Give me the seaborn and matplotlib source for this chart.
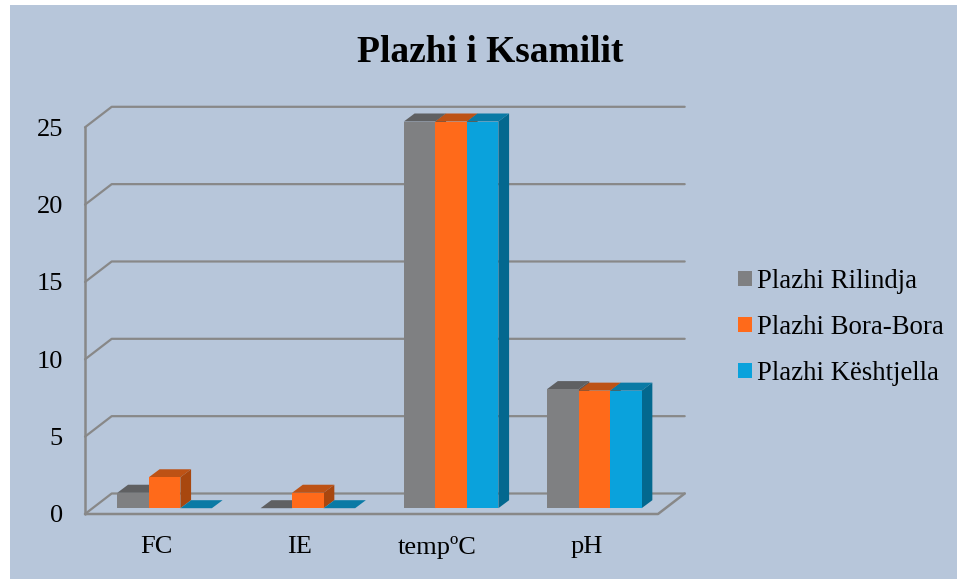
import matplotlib

matplotlib.use("Agg")
import matplotlib.pyplot as plt
import pandas as pd
import seaborn as sns
from matplotlib.patches import Polygon, Rectangle
from matplotlib.transforms import Affine2D, IdentityTransform


CATEGORIES = ["FC", "IE", "tempºC", "pH"]
RILINDJA = [1, 0, 25, 7.7]
BORA_BORA = [2, 1, 25, 7.6]
KESHTJELLA = [0, 0, 25, 7.6]
SERIES = ["Plazhi Rilindja", "Plazhi Bora-Bora", "Plazhi Kështjella"]
COLORS = ["#7F8082", "#FF6A1A", "#0AA2DC"]
TOPS = ["#5F6062", "#BD5215", "#0A7AA5"]
SIDES = ["#58595B", "#A8470F", "#03688F"]
YTICKS = [0, 5, 10, 15, 20, 25]

W, H = 957, 579
BG = "#B7C6DA"
LINE = "#888888"
BAR_SHIFT = (8, 5.8)
BAR_DEPTH = (10.7, 8)
WALL_DEPTH = (26.7, 20.5)


def wall_line(ax, v):
    x0, y0 = ax.transData.transform((-0.5, v))
    dx, dy = WALL_DEPTH
    x1 = ax.transData.transform((3.5, v))[0]
    ax.plot(
        [x0, x0 + dx, x1 + dx], [y0, y0 + dy, y0 + dy],
        transform=IdentityTransform(), color=LINE, lw=1.6, clip_on=False,
        zorder=1,
    )


def add_face(ax, pts, color, zorder):
    ax.add_patch(Polygon(
        pts, closed=True, transform=IdentityTransform(), facecolor=color,
        edgecolor="none", clip_on=False, zorder=zorder,
    ))


def main():
    sns.set_theme(style="white")
    plt.rcParams["font.family"] = ["Liberation Serif", "DejaVu Serif"]

    df = pd.DataFrame({
        "cat": CATEGORIES * 3,
        "beach": [s for s in SERIES for _ in CATEGORIES],
        "value": RILINDJA + BORA_BORA + KESHTJELLA,
    })

    fig = plt.figure(figsize=(W / 100, H / 100), dpi=100, facecolor="white")
    fig.add_artist(Rectangle(
        (10 / W, 0), (W - 10) / W, (H - 5) / H, transform=fig.transFigure,
        facecolor=BG, edgecolor="none", zorder=-5,
    ))
    ax = fig.add_axes([85 / W, (H - 514) / H, 573 / W, 386.7 / H])
    ax.patch.set_alpha(0)

    sns.barplot(
        data=df, x="cat", y="value", hue="beach", hue_order=SERIES,
        order=CATEGORIES, palette=COLORS, saturation=1, width=0.66, gap=0,
        linewidth=0, ax=ax,
    )
    ax.set_xlim(-0.5, 3.5)
    ax.set_ylim(0, 25)
    ax.set_xlabel("")
    ax.set_ylabel("")
    ax.set_yticks(YTICKS)
    ax.tick_params(axis="y", length=0, pad=16, labelsize=19, colors="black")
    ax.tick_params(axis="x", length=0, pad=16, labelsize=19, colors="black")
    sns.despine(ax=ax, left=True, bottom=True)

    # the degree label sits a bit left of its slot in the original
    temp_label = ax.get_xticklabels()[2]
    temp_label.set_transform(
        temp_label.get_transform() + Affine2D().translate(-6, 0)
    )

    # walls and floor
    for v in YTICKS:
        wall_line(ax, v)
    (x0, y0), (x1, y1) = ax.transData.transform([(-0.5, 0), (3.5, 25)])
    ax.plot([x0, x0], [y0, y1], transform=IdentityTransform(), color=LINE,
            lw=1.8, clip_on=False, zorder=1)
    ax.plot([x0, x1, x1 + WALL_DEPTH[0]], [y0, y0, y0 + WALL_DEPTH[1]],
            transform=IdentityTransform(), color=LINE, lw=1.8, clip_on=False,
            zorder=1)

    # fake 3d: shift the seaborn bars back and add top and side faces
    handles, labels = ax.get_legend_handles_labels()
    shift = Affine2D().translate(*BAR_SHIFT)
    dx, dy = BAR_DEPTH
    for i, cont in enumerate(ax.containers):
        z = 3 + i
        for bar in cont:
            bar.set_transform(ax.transData + shift)
            bar.set_clip_on(False)
            bar.set_zorder(z + 0.5)
            left, bottom = ax.transData.transform((bar.get_x(), 0))
            right, top = ax.transData.transform(
                (bar.get_x() + bar.get_width(), bar.get_height())
            )
            left += BAR_SHIFT[0]
            right += BAR_SHIFT[0]
            bottom += BAR_SHIFT[1]
            top += BAR_SHIFT[1]
            add_face(ax, [(left, top), (right, top), (right + dx, top + dy),
                          (left + dx, top + dy)], TOPS[i], z)
            if top > bottom:
                add_face(ax, [(right, bottom), (right + dx, bottom + dy),
                              (right + dx, top + dy), (right, top)],
                         SIDES[i], z)

    ax.legend(
        handles, labels, loc="upper left",
        bbox_to_anchor=(738 / W, (H - 269) / H),
        bbox_transform=fig.transFigure, frameon=False, fontsize=19.3,
        handlelength=0.52, handleheight=0.52, handletextpad=0.18,
        labelspacing=0.78, borderpad=0, borderaxespad=0, labelcolor="black",
    )
    fig.text(490 / W, (H - 52) / H, "Plazhi i Ksamilit", ha="center",
             va="center", fontsize=27, fontweight="bold", color="black")

    fig.savefig("out.png", dpi=100, facecolor="white")


if __name__ == "__main__":
    main()
